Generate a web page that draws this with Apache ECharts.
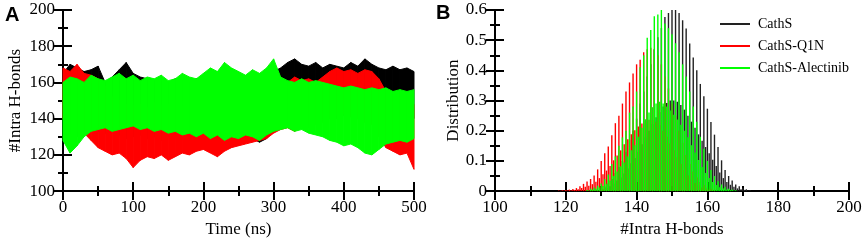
<!DOCTYPE html>
<html>
<head>
<meta charset="utf-8">
<script src="https://cdn.jsdelivr.net/npm/echarts@6/dist/echarts.min.js"></script>
<style>
html, body { margin: 0; padding: 0; background: #fff; }
#chart { width: 865px; height: 243px; }
</style>
</head>
<body>
<div id="chart"></div>
<script>
// ---- panel A: H-bond count vs time, envelope read every 10 ns ----
var timeNs = [0, 10, 20, 30, 40, 50, 60, 70, 80, 90, 100, 110, 120, 130, 140, 150, 160, 170, 180, 190,
    200, 210, 220, 230, 240, 250, 260, 270, 280, 290, 300, 310, 320, 330, 340, 350, 360, 370, 380, 390,
    400, 410, 420, 430, 440, 450, 460, 470, 480, 490, 500];

var cathSHigh = [165, 170, 168, 166, 167, 169, 160, 163, 167, 171, 165, 163, 162, 161, 163, 160, 162, 161, 160, 162,
    161, 162, 160, 161, 159, 162, 160, 161, 163, 162, 166, 168, 171, 173, 170, 169, 171, 168, 170, 169,
    168, 171, 169, 173, 170, 168, 167, 169, 167, 168, 166];
var cathSLow = [135, 132, 130, 133, 135, 133, 132, 133, 131, 129, 130, 131, 129, 130, 128, 130, 131, 129, 128, 130,
    131, 130, 129, 131, 130, 128, 131, 129, 127, 129, 133, 137, 139, 140, 141, 140, 141, 142, 141, 140,
    142, 141, 140, 141, 142, 141, 140, 141, 140, 139, 140];

var q1nHigh = [168, 166, 170, 165, 164, 162, 158, 152, 150, 148, 147, 148, 146, 149, 147, 148, 150, 147, 149, 151,
    150, 153, 152, 155, 158, 157, 159, 158, 160, 158, 159, 162, 160, 163, 161, 162, 160, 163, 166, 168,
    166, 167, 165, 167, 166, 162, 155, 153, 152, 150, 148];
var q1nLow = [140, 135, 133, 132, 128, 124, 122, 120, 121, 118, 113, 117, 119, 118, 120, 117, 119, 121, 120, 122,
    123, 121, 119, 122, 124, 125, 126, 127, 128, 129, 132, 134, 135, 133, 136, 135, 137, 138, 140, 142,
    143, 141, 140, 138, 137, 130, 124, 122, 120, 121, 112];

var alecHigh = [160, 163, 162, 160, 164, 162, 161, 163, 165, 162, 164, 161, 163, 162, 164, 161, 162, 165, 163, 162,
    165, 168, 166, 171, 168, 166, 164, 167, 165, 168, 173, 163, 161, 160, 162, 160, 161, 160, 159, 158,
    157, 158, 157, 156, 157, 156, 157, 155, 156, 155, 156];
var alecLow = [128, 121, 125, 130, 133, 134, 135, 133, 134, 135, 136, 134, 135, 133, 134, 132, 133, 131, 132, 130,
    132, 129, 131, 128, 130, 129, 131, 130, 128, 131, 133, 134, 135, 133, 134, 132, 131, 130, 128, 127,
    125, 126, 124, 121, 120, 123, 126, 127, 128, 127, 129];

// ---- panel B: distribution, one tall bar per integer and a short one at each half step ----
var cathSStart = 130;
var cathSTall = [0.01, 0.015, 0.025, 0.04, 0.06, 0.08, 0.10, 0.13, 0.17, 0.20, 0.24, 0.29, 0.33, 0.38, 0.42, 0.47,
    0.51, 0.54, 0.577, 0.59, 0.60, 0.60, 0.59, 0.566, 0.539, 0.489, 0.443, 0.40, 0.355, 0.314, 0.273, 0.229,
    0.187, 0.146, 0.102, 0.07, 0.05, 0.035, 0.022, 0.016, 0.01, 0.006, 0.003];
var cathSHalf = [0.006, 0.01, 0.016, 0.025, 0.035, 0.045, 0.058, 0.075, 0.092, 0.11, 0.13, 0.155, 0.178, 0.2, 0.222,
    0.245, 0.262, 0.28, 0.292, 0.3, 0.3, 0.296, 0.285, 0.27, 0.25, 0.23, 0.21, 0.188, 0.167, 0.146, 0.125,
    0.104, 0.083, 0.062, 0.043, 0.03, 0.021, 0.014, 0.009, 0.006, 0.004, 0.002];

var q1nStart = 118;
var q1nTall = [0.002, 0.003, 0.004, 0.005, 0.007, 0.01, 0.016, 0.024, 0.032, 0.04, 0.052, 0.072, 0.10, 0.125, 0.148,
    0.185, 0.225, 0.25, 0.29, 0.33, 0.36, 0.39, 0.42, 0.435, 0.46, 0.47, 0.475, 0.47, 0.45, 0.42, 0.38, 0.34,
    0.29, 0.25, 0.20, 0.16, 0.12, 0.09, 0.065, 0.045, 0.03, 0.02, 0.012, 0.008, 0.005];
var q1nHalf = [0.001, 0.002, 0.002, 0.003, 0.004, 0.006, 0.01, 0.014, 0.018, 0.023, 0.031, 0.043, 0.056, 0.068, 0.083,
    0.102, 0.118, 0.135, 0.155, 0.172, 0.188, 0.202, 0.214, 0.224, 0.232, 0.236, 0.236, 0.23, 0.218, 0.2, 0.18,
    0.158, 0.135, 0.112, 0.09, 0.07, 0.052, 0.038, 0.027, 0.019, 0.012, 0.008, 0.005, 0.003];

var alecStart = 126;
var alecTall = [0.004, 0.008, 0.012, 0.018, 0.025, 0.04, 0.055, 0.09, 0.115, 0.15, 0.178, 0.20, 0.26, 0.28, 0.33,
    0.41, 0.45, 0.508, 0.534, 0.579, 0.585, 0.60, 0.555, 0.54, 0.52, 0.49, 0.46, 0.42, 0.38, 0.33, 0.28, 0.23,
    0.18, 0.14, 0.10, 0.07, 0.05, 0.033, 0.022, 0.014, 0.008, 0.005, 0.003];
var alecHalf = [0.002, 0.005, 0.008, 0.012, 0.017, 0.024, 0.035, 0.05, 0.065, 0.082, 0.095, 0.115, 0.135, 0.152, 0.18,
    0.21, 0.238, 0.26, 0.278, 0.29, 0.296, 0.29, 0.28, 0.267, 0.253, 0.237, 0.22, 0.2, 0.178, 0.152, 0.128,
    0.103, 0.08, 0.06, 0.043, 0.03, 0.02, 0.013, 0.009, 0.005, 0.003, 0.002];

var names = ['CathS', 'CathS-Q1N', 'CathS-Alectinib'];
var colors = ['#000000', '#ff0000', '#00ff00'];
var serif = '"Liberation Serif", "DejaVu Serif", serif';

// each data item is one 10 ns slice of the band: [t0, low0, high0, t1, low1, high1]
function bandSeries(name, low, high, color) {
    var data = [];
    for (var i = 0; i < timeNs.length - 1; i++) {
        data.push([timeNs[i], low[i], high[i], timeNs[i + 1], low[i + 1], high[i + 1]]);
    }
    return {
        name: name + ' band', type: 'custom', xAxisIndex: 0, yAxisIndex: 0, silent: true,
        encode: { x: [0, 3], y: [1, 2, 4, 5] },
        data: data,
        renderItem: function (params, api) {
            var a = api.coord([api.value(0), api.value(1)]);
            var b = api.coord([api.value(0), api.value(2)]);
            var c = api.coord([api.value(3), api.value(5)]);
            var d = api.coord([api.value(3), api.value(4)]);
            return {
                type: 'polygon',
                shape: { points: [a, b, c, d] },
                style: { fill: color, stroke: color, lineWidth: 1 }
            };
        }
    };
}

function distSeries(name, start, tall, half, color) {
    var data = [];
    for (var i = 0; i < tall.length; i++) data.push([start + i, tall[i]]);
    for (var j = 0; j < half.length; j++) data.push([start + j + 0.5, half[j]]);
    return { name: name, type: 'bar', xAxisIndex: 2, yAxisIndex: 2, data: data,
             barWidth: 1.4, barGap: '-100%', itemStyle: { color: color } };
}

// main axis carries line, labels and outward ticks; twin axis adds the inward half of each tick
function axis(grid, min, max, step, main, extra) {
    var ax = {
        type: 'value', gridIndex: grid, min: min, max: max, interval: step,
        splitLine: { show: false },
        axisLine: { show: main, onZero: false, lineStyle: { color: '#000', width: 2 } },
        axisTick: { show: true, inside: !main, length: 9, lineStyle: { color: '#000', width: 2 } },
        minorTick: { show: true, splitNumber: 2, length: 5, lineStyle: { color: '#000', width: 2 } },
        axisLabel: { show: main, color: '#000', fontFamily: serif, fontSize: 17 }
    };
    for (var k in extra) ax[k] = extra[k];
    return ax;
}

var nameStyle = { color: '#000', fontFamily: serif, fontSize: 17 };

var series = [
    bandSeries(names[0], cathSLow, cathSHigh, colors[0]),
    bandSeries(names[1], q1nLow, q1nHigh, colors[1]),
    bandSeries(names[2], alecLow, alecHigh, colors[2]),
    distSeries(names[0], cathSStart, cathSTall, cathSHalf, '#222222'),
    distSeries(names[1], q1nStart, q1nTall, q1nHalf, colors[1]),
    distSeries(names[2], alecStart, alecTall, alecHalf, colors[2])
];

var option = {
    animation: false,
    backgroundColor: '#fff',
    grid: [
        { left: 63, top: 10, width: 351, height: 187 },
        { left: 495, top: 10, width: 354, height: 189 }
    ],
    xAxis: [
        axis(0, 0, 500, 100, true, { position: 'bottom', name: 'Time (ns)', nameLocation: 'middle', nameGap: 26, nameTextStyle: nameStyle }),
        axis(0, 0, 500, 100, false, { position: 'bottom' }),
        axis(1, 100, 200, 20, true, { position: 'bottom', name: '#Intra H-bonds', nameLocation: 'middle', nameGap: 26, nameTextStyle: nameStyle }),
        axis(1, 100, 200, 20, false, { position: 'bottom' })
    ],
    yAxis: [
        axis(0, 100, 200, 20, true, { position: 'left', name: '#Intra H-bonds', nameLocation: 'middle', nameGap: 39, nameTextStyle: nameStyle }),
        axis(0, 100, 200, 20, false, { position: 'left' }),
        axis(1, 0, 0.6, 0.1, true, { position: 'left', name: 'Distribution', nameLocation: 'middle', nameGap: 29, nameTextStyle: nameStyle }),
        axis(1, 0, 0.6, 0.1, false, { position: 'left' })
    ],
    legend: {
        data: names,
        orient: 'vertical',
        left: 715,
        top: 12,
        itemGap: 8,
        itemWidth: 30,
        itemHeight: 2,
        icon: 'rect',
        textStyle: { color: '#000', fontFamily: serif, fontSize: 14, padding: [0, 0, 0, 3] }
    },
    graphic: [
        { type: 'text', left: 5, top: 5, style: { text: 'A', fontFamily: '"Liberation Sans", Arial, sans-serif', fontWeight: 'bold', fontSize: 20, fill: '#000' } },
        { type: 'text', left: 436, top: 3, style: { text: 'B', fontFamily: '"Liberation Sans", Arial, sans-serif', fontWeight: 'bold', fontSize: 20, fill: '#000' } }
    ],
    series: series
};

var chart = echarts.init(document.getElementById('chart'));
chart.setOption(option);
</script>
</body>
</html>
